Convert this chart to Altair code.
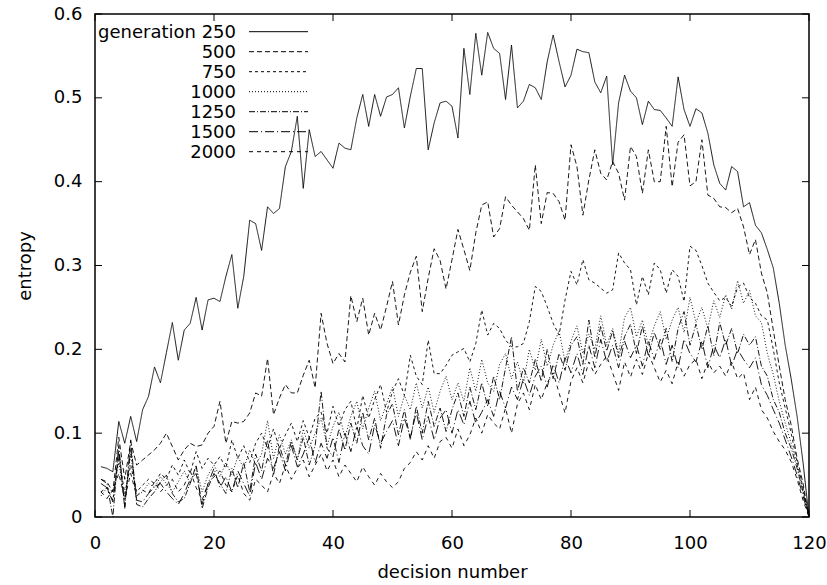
import altair as alt
import pandas as pd

decision = list(range(1, 121))
generations = ["250", "500", "750", "1000", "1250", "1500", "2000"]
legend_labels = ["generation 250", "500", "750", "1000", "1250", "1500", "2000"]

gen250 = [
    0.060, 0.058, 0.054, 0.114, 0.088, 0.120, 0.090, 0.128, 0.144, 0.179,
    0.160, 0.196, 0.232, 0.187, 0.223, 0.231, 0.262, 0.223, 0.259, 0.261,
    0.257, 0.287, 0.313, 0.249, 0.287, 0.354, 0.350, 0.318, 0.370, 0.362,
    0.368, 0.418, 0.436, 0.478, 0.392, 0.462, 0.430, 0.436, 0.426, 0.416,
    0.446, 0.440, 0.438, 0.476, 0.504, 0.466, 0.504, 0.478, 0.501, 0.504,
    0.512, 0.464, 0.502, 0.535, 0.535, 0.438, 0.470, 0.494, 0.496, 0.490,
    0.452, 0.559, 0.504, 0.577, 0.527, 0.578, 0.559, 0.553, 0.498, 0.563,
    0.488, 0.496, 0.516, 0.512, 0.498, 0.543, 0.575, 0.543, 0.513, 0.527,
    0.558, 0.555, 0.554, 0.519, 0.506, 0.526, 0.420, 0.494, 0.527, 0.508,
    0.500, 0.468, 0.496, 0.486, 0.485, 0.476, 0.466, 0.525, 0.486, 0.466,
    0.487, 0.482, 0.458, 0.420, 0.398, 0.390, 0.418, 0.412, 0.370, 0.375,
    0.348, 0.339, 0.319, 0.297, 0.255, 0.205, 0.165, 0.120, 0.065, 0.000,
]
gen500 = [
    0.045, 0.042, 0.030, 0.095, 0.045, 0.090, 0.062, 0.068, 0.074, 0.080,
    0.088, 0.100, 0.084, 0.068, 0.080, 0.088, 0.084, 0.086, 0.100, 0.108,
    0.138, 0.088, 0.114, 0.112, 0.114, 0.124, 0.148, 0.144, 0.189, 0.122,
    0.142, 0.158, 0.148, 0.148, 0.169, 0.187, 0.154, 0.243, 0.207, 0.183,
    0.195, 0.185, 0.264, 0.233, 0.261, 0.217, 0.243, 0.223, 0.251, 0.281,
    0.229, 0.265, 0.292, 0.311, 0.245, 0.285, 0.320, 0.306, 0.272, 0.307,
    0.343, 0.319, 0.294, 0.339, 0.372, 0.376, 0.334, 0.344, 0.382, 0.372,
    0.364, 0.356, 0.342, 0.420, 0.350, 0.387, 0.386, 0.376, 0.354, 0.444,
    0.418, 0.360, 0.402, 0.438, 0.410, 0.402, 0.424, 0.410, 0.378, 0.442,
    0.430, 0.386, 0.438, 0.400, 0.400, 0.466, 0.394, 0.447, 0.456, 0.395,
    0.400, 0.450, 0.384, 0.380, 0.370, 0.369, 0.363, 0.368, 0.346, 0.313,
    0.331, 0.291, 0.267, 0.223, 0.180, 0.140, 0.110, 0.070, 0.040, 0.000,
]
gen750 = [
    0.030, 0.035, 0.020, 0.072, 0.028, 0.062, 0.030, 0.038, 0.045, 0.040,
    0.052, 0.045, 0.062, 0.050, 0.068, 0.052, 0.078, 0.058, 0.070, 0.062,
    0.072, 0.058, 0.092, 0.070, 0.085, 0.065, 0.088, 0.100, 0.082, 0.105,
    0.082, 0.098, 0.112, 0.090, 0.115, 0.095, 0.118, 0.125, 0.100, 0.132,
    0.108, 0.128, 0.138, 0.105, 0.145, 0.118, 0.140, 0.158, 0.125, 0.150,
    0.165, 0.145, 0.193, 0.168, 0.158, 0.211, 0.171, 0.171, 0.181, 0.193,
    0.197, 0.201, 0.185, 0.207, 0.247, 0.217, 0.231, 0.225, 0.211, 0.203,
    0.203, 0.207, 0.233, 0.275, 0.269, 0.251, 0.231, 0.217, 0.259, 0.293,
    0.277, 0.307, 0.283, 0.279, 0.273, 0.267, 0.271, 0.315, 0.303, 0.295,
    0.253, 0.287, 0.265, 0.303, 0.295, 0.267, 0.295, 0.287, 0.257, 0.323,
    0.318, 0.300, 0.279, 0.268, 0.258, 0.262, 0.251, 0.274, 0.279, 0.262,
    0.255, 0.240, 0.235, 0.200, 0.160, 0.130, 0.100, 0.065, 0.035, 0.000,
]
gen1000 = [
    0.025, 0.035, 0.030, 0.065, 0.020, 0.075, 0.025, 0.030, 0.040, 0.035,
    0.048, 0.040, 0.030, 0.042, 0.055, 0.040, 0.060, 0.030, 0.050, 0.062,
    0.048, 0.065, 0.050, 0.072, 0.058, 0.080, 0.062, 0.075, 0.115, 0.070,
    0.098, 0.075, 0.092, 0.068, 0.105, 0.082, 0.100, 0.118, 0.085, 0.108,
    0.125, 0.095, 0.120, 0.138, 0.105, 0.130, 0.150, 0.115, 0.135, 0.155,
    0.120, 0.145, 0.128, 0.160, 0.130, 0.155, 0.125, 0.150, 0.168, 0.140,
    0.160, 0.138, 0.178, 0.150, 0.188, 0.160, 0.150, 0.182, 0.195, 0.165,
    0.185, 0.160, 0.200, 0.175, 0.212, 0.180, 0.205, 0.222, 0.185, 0.210,
    0.228, 0.195, 0.218, 0.200, 0.240, 0.205, 0.225, 0.195, 0.238, 0.250,
    0.215, 0.235, 0.205, 0.228, 0.245, 0.212, 0.235, 0.250, 0.220, 0.262,
    0.232, 0.250, 0.225, 0.258, 0.238, 0.265, 0.248, 0.282, 0.255, 0.270,
    0.240, 0.232, 0.195, 0.170, 0.138, 0.112, 0.088, 0.062, 0.032, 0.000,
]
gen1250 = [
    0.045, 0.040, 0.000, 0.085, 0.010, 0.092, 0.015, 0.012, 0.022, 0.030,
    0.042, 0.050, 0.028, 0.018, 0.022, 0.040, 0.062, 0.010, 0.035, 0.052,
    0.040, 0.028, 0.058, 0.035, 0.065, 0.030, 0.075, 0.055, 0.092, 0.050,
    0.085, 0.062, 0.090, 0.068, 0.095, 0.062, 0.085, 0.150, 0.082, 0.072,
    0.105, 0.080, 0.112, 0.088, 0.125, 0.092, 0.118, 0.082, 0.122, 0.135,
    0.098, 0.128, 0.092, 0.132, 0.100, 0.138, 0.108, 0.130, 0.102, 0.128,
    0.148, 0.120, 0.155, 0.128, 0.160, 0.132, 0.168, 0.140, 0.178, 0.215,
    0.150, 0.178, 0.160, 0.188, 0.162, 0.200, 0.165, 0.195, 0.175, 0.205,
    0.215, 0.182, 0.235, 0.190, 0.228, 0.198, 0.222, 0.190, 0.215, 0.230,
    0.195, 0.228, 0.192, 0.220, 0.200, 0.225, 0.185, 0.225, 0.245, 0.205,
    0.230, 0.200, 0.228, 0.192, 0.232, 0.205, 0.225, 0.195, 0.218, 0.205,
    0.215, 0.180, 0.168, 0.140, 0.125, 0.100, 0.082, 0.058, 0.030, 0.000,
]
gen1500 = [
    0.040, 0.035, 0.018, 0.080, 0.012, 0.082, 0.020, 0.018, 0.028, 0.036,
    0.040, 0.030, 0.022, 0.015, 0.028, 0.045, 0.052, 0.015, 0.040, 0.058,
    0.035, 0.048, 0.030, 0.055, 0.040, 0.025, 0.065, 0.045, 0.070, 0.058,
    0.078, 0.055, 0.085, 0.060, 0.075, 0.095, 0.065, 0.088, 0.070, 0.095,
    0.065, 0.100, 0.078, 0.108, 0.085, 0.075, 0.110, 0.088, 0.102, 0.115,
    0.085, 0.118, 0.095, 0.125, 0.092, 0.120, 0.092, 0.118, 0.128, 0.100,
    0.128, 0.110, 0.138, 0.112, 0.125, 0.140, 0.120, 0.150, 0.130, 0.155,
    0.140, 0.165, 0.145, 0.168, 0.180, 0.155, 0.182, 0.160, 0.190, 0.172,
    0.195, 0.170, 0.205, 0.178, 0.212, 0.185, 0.205, 0.178, 0.210, 0.190,
    0.205, 0.180, 0.210, 0.188, 0.212, 0.182, 0.205, 0.178, 0.212, 0.195,
    0.185, 0.210, 0.178, 0.205, 0.190, 0.212, 0.180, 0.200, 0.188, 0.178,
    0.190, 0.158, 0.145, 0.128, 0.112, 0.092, 0.072, 0.050, 0.025, 0.000,
]
gen2000 = [
    0.030, 0.022, 0.032, 0.052, 0.022, 0.052, 0.025, 0.032, 0.028, 0.042,
    0.030, 0.038, 0.045, 0.030, 0.038, 0.055, 0.035, 0.020, 0.040, 0.048,
    0.055, 0.038, 0.030, 0.050, 0.028, 0.020, 0.045, 0.038, 0.030, 0.052,
    0.040, 0.062, 0.045, 0.058, 0.068, 0.048, 0.062, 0.075, 0.055, 0.068,
    0.048, 0.062, 0.052, 0.042, 0.060, 0.048, 0.038, 0.052, 0.042, 0.035,
    0.042, 0.058, 0.065, 0.078, 0.068, 0.085, 0.070, 0.090, 0.095, 0.082,
    0.105, 0.085, 0.098, 0.118, 0.100, 0.122, 0.112, 0.105, 0.130, 0.100,
    0.135, 0.148, 0.128, 0.158, 0.140, 0.160, 0.172, 0.148, 0.124, 0.162,
    0.178, 0.160, 0.185, 0.170, 0.182, 0.192, 0.172, 0.151, 0.185, 0.167,
    0.188, 0.170, 0.195, 0.178, 0.161, 0.175, 0.159, 0.185, 0.168, 0.182,
    0.188, 0.165, 0.185, 0.172, 0.180, 0.168, 0.185, 0.165, 0.172, 0.140,
    0.155, 0.128, 0.118, 0.102, 0.090, 0.080, 0.066, 0.045, 0.020, 0.000,
]

x_ticks = [0, 20, 40, 60, 80, 100, 120]
y_ticks = [0, 0.1, 0.2, 0.3, 0.4, 0.5, 0.6]

series = {
    "250": gen250, "500": gen500, "750": gen750, "1000": gen1000,
    "1250": gen1250, "1500": gen1500, "2000": gen2000,
}
rows = []
for g in generations:
    for d, v in zip(decision, series[g]):
        rows.append({"decision": d, "entropy": v, "generation": g})
df = pd.DataFrame(rows)

W, H = 714, 503
FONT = "DejaVu Sans"
FS = 18
TICK = 7
dash_styles = [[1, 0], [5, 3], [3, 3], [1, 2], [6, 2, 1, 2], [9, 3, 1, 3], [4, 4]]

x_scale = alt.Scale(domain=[0, 120], nice=False, zero=False)
y_scale = alt.Scale(domain=[0, 0.6], nice=False)
x_axis = alt.Axis(values=x_ticks, format="d", title="decision number",
                  labelPadding=17, titleY=60, titleBaseline="alphabetic")
y_axis = alt.Axis(values=y_ticks, format=".1~f", title="entropy",
                  labelPadding=13, titleX=-65, titleY=H / 2,
                  titleAngle=270, titleBaseline="alphabetic")

lines = alt.Chart(df).mark_line(strokeWidth=0.9, color="black").encode(
    x=alt.X("decision:Q", scale=x_scale, axis=x_axis),
    y=alt.Y("entropy:Q", scale=y_scale, axis=y_axis),
    strokeDash=alt.StrokeDash("generation:N",
                              scale=alt.Scale(domain=generations, range=dash_styles),
                              legend=None),
)

xt = pd.DataFrame({"t": x_ticks})
yt = pd.DataFrame({"t": y_ticks})
tick_bottom = alt.Chart(xt).mark_rule(color="black", strokeWidth=1).encode(
    x=alt.X("t:Q", scale=x_scale, axis=x_axis), y=alt.value(H), y2=alt.value(H - TICK))
tick_top = alt.Chart(xt).mark_rule(color="black", strokeWidth=1).encode(
    x=alt.X("t:Q", scale=x_scale, axis=x_axis), y=alt.value(0), y2=alt.value(TICK))
tick_left = alt.Chart(yt).mark_rule(color="black", strokeWidth=1).encode(
    y=alt.Y("t:Q", scale=y_scale, axis=y_axis), x=alt.value(0), x2=alt.value(TICK))
tick_right = alt.Chart(yt).mark_rule(color="black", strokeWidth=1).encode(
    y=alt.Y("t:Q", scale=y_scale, axis=y_axis), x=alt.value(W), x2=alt.value(W - TICK))

layers = [lines, tick_bottom, tick_top, tick_left, tick_right]
for i, (lab, dash) in enumerate(zip(legend_labels, dash_styles)):
    yc = 17.7 + 20 * i
    txt = alt.Chart(pd.DataFrame({"label": [lab]})).mark_text(
        align="right", baseline="alphabetic", font=FONT, fontSize=FS, color="black"
    ).encode(text="label:N", x=alt.value(141), y=alt.value(yc + 6.5))
    smp = alt.Chart(pd.DataFrame({"label": [lab]})).mark_rule(
        color="black", strokeWidth=1, strokeDash=dash
    ).encode(x=alt.value(154), x2=alt.value(213), y=alt.value(yc))
    layers += [txt, smp]

chart = alt.layer(*layers).properties(
    width=W, height=H,
    autosize=alt.AutoSizeParams(type="none"),
    padding={"left": 95, "top": 14, "right": 18, "bottom": 68},
).configure_view(
    stroke="black", strokeWidth=1.5
).configure_axis(
    grid=False, domain=False, ticks=False, labelFlush=False,
    labelFont=FONT, labelFontSize=FS, labelColor="black",
    titleFont=FONT, titleFontSize=FS, titleFontWeight="normal", titleColor="black",
)

chart.save("out.html", embed_options={"renderer": "svg", "actions": False})
